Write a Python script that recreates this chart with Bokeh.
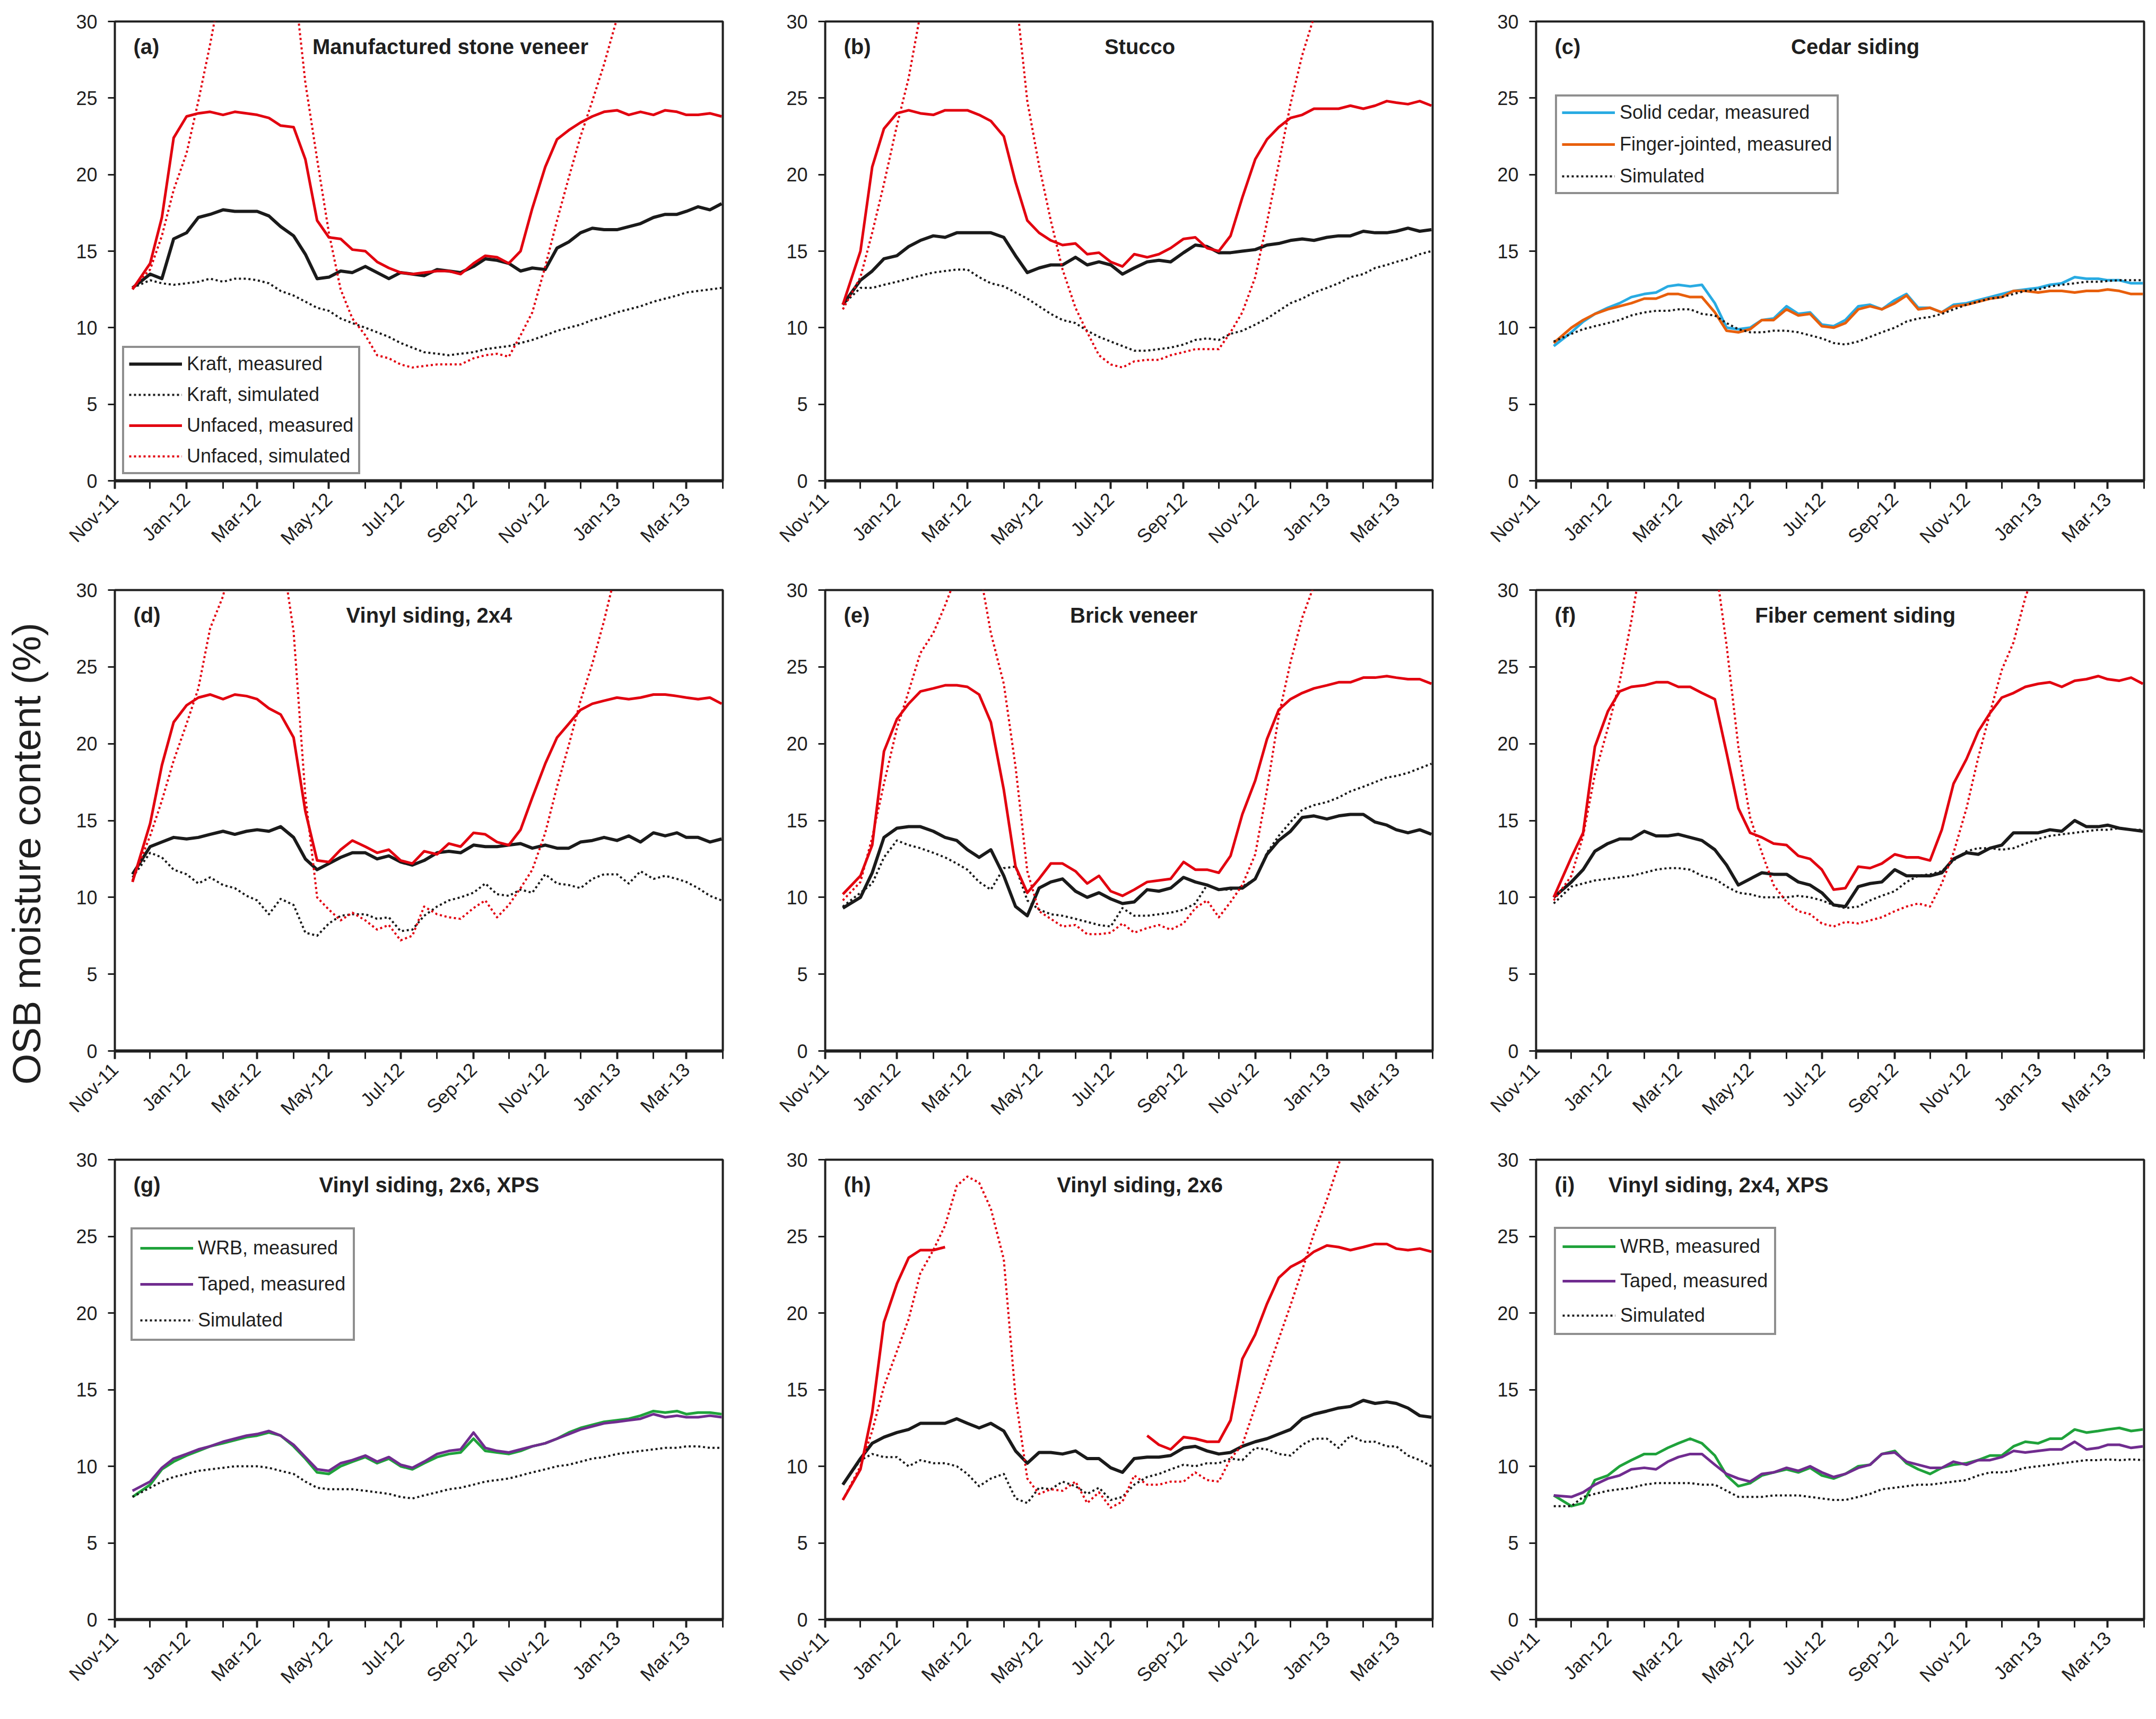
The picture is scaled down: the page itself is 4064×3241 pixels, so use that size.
import numpy as np
import pandas as pd
from bokeh.plotting import figure
from bokeh.layouts import row, column
from bokeh.models import FixedTicker, DatetimeTickFormatter, Range1d, Legend, LegendItem
from bokeh.core.properties import value
from bokeh.embed import file_html
from bokeh.resources import INLINE

# ------------------------------------------------------------------ data
DATES = ["2011-11-16", "2011-12-01", "2011-12-11", "2011-12-21",
         "2012-01-01", "2012-01-11", "2012-01-21", "2012-02-01", "2012-02-11", "2012-02-21",
         "2012-03-01", "2012-03-11", "2012-03-21", "2012-04-01", "2012-04-11", "2012-04-21",
         "2012-05-01", "2012-05-11", "2012-05-21", "2012-06-01", "2012-06-11", "2012-06-21",
         "2012-07-01", "2012-07-11", "2012-07-21", "2012-08-01", "2012-08-11", "2012-08-21",
         "2012-09-01", "2012-09-11", "2012-09-21", "2012-10-01", "2012-10-11", "2012-10-21",
         "2012-11-01", "2012-11-11", "2012-11-21", "2012-12-01", "2012-12-11", "2012-12-21",
         "2013-01-01", "2013-01-11", "2013-01-21", "2013-02-01", "2013-02-11", "2013-02-21",
         "2013-03-01", "2013-03-11", "2013-03-21", "2013-03-31"]

X_START = "2011-11-01"
X_END = "2013-04-01"
X_LABEL_MONTHS = ["2011-11-01", "2012-01-01", "2012-03-01", "2012-05-01", "2012-07-01",
                  "2012-09-01", "2012-11-01", "2013-01-01", "2013-03-01"]
X_MINOR_MONTHS = ["2011-11-01", "2011-12-01", "2012-01-01", "2012-02-01", "2012-03-01",
                  "2012-04-01", "2012-05-01", "2012-06-01", "2012-07-01", "2012-08-01",
                  "2012-09-01", "2012-10-01", "2012-11-01", "2012-12-01", "2013-01-01",
                  "2013-02-01", "2013-03-01", "2013-04-01"]
Y_TICKS = [0, 5, 10, 15, 20, 25, 30]
Y_LABEL = "OSB moisture content (%)"

# (a) Manufactured stone veneer
A_KRAFT_MEAS = [12.6, 13.5, 13.2, 15.8, 16.2, 17.2, 17.4, 17.7, 17.6, 17.6,
                17.6, 17.3, 16.6, 16.0, 14.8, 13.2, 13.3, 13.7, 13.6, 14.0,
                13.6, 13.2, 13.6, 13.5, 13.4, 13.8, 13.7, 13.6, 14.0, 14.5,
                14.4, 14.2, 13.7, 13.9, 13.8, 15.2, 15.6, 16.2, 16.5, 16.4,
                16.4, 16.6, 16.8, 17.2, 17.4, 17.4, 17.6, 17.9, 17.7, 18.1]
A_KRAFT_SIM = [12.6, 13.1, 12.9, 12.8, 12.9, 13.0, 13.2, 13.0, 13.2, 13.2,
               13.1, 12.9, 12.4, 12.1, 11.7, 11.3, 11.1, 10.6, 10.3, 10.0,
               9.7, 9.4, 9.0, 8.7, 8.4, 8.3, 8.2, 8.3, 8.4, 8.6,
               8.7, 8.8, 9.0, 9.2, 9.5, 9.8, 10.0, 10.2, 10.5, 10.7,
               11.0, 11.2, 11.4, 11.7, 11.9, 12.1, 12.3, 12.4, 12.5, 12.6]
A_UNF_MEAS = [12.5, 14.2, 17.2, 22.4, 23.8, 24.0, 24.1, 23.9, 24.1, 24.0,
              23.9, 23.7, 23.2, 23.1, 21.0, 17.0, 15.9, 15.8, 15.1, 15.0,
              14.3, 13.9, 13.6, 13.5, 13.6, 13.7, 13.7, 13.5, 14.2, 14.7,
              14.6, 14.2, 15.0, 17.8, 20.5, 22.3, 22.9, 23.4, 23.8, 24.1,
              24.2, 23.9, 24.1, 23.9, 24.2, 24.1, 23.9, 23.9, 24.0, 23.8]
A_UNF_SIM = [12.6, 13.8, 16.0, 19.0, 21.4, 24.8, 28.5, 33.0, 37.0, 40.0,
             41.0, 40.0, 36.5, 33.0, 26.0, 21.0, 16.2, 12.5, 10.6, 9.5,
             8.2, 8.0, 7.6, 7.4, 7.5, 7.6, 7.6, 7.6, 8.0, 8.2,
             8.3, 8.1, 9.5, 11.0, 14.0, 17.0, 19.8, 22.5, 24.8, 27.2,
             30.2, 33.0, 36.0, 38.0, 40.0, 41.0, 42.0, 43.0, 44.0, 45.0]

# (b) Stucco
B_KRAFT_MEAS = [11.5, 13.1, 13.7, 14.5, 14.7, 15.3, 15.7, 16.0, 15.9, 16.2,
                16.2, 16.2, 16.2, 15.9, 14.7, 13.6, 13.9, 14.1, 14.1, 14.6,
                14.1, 14.3, 14.1, 13.5, 13.9, 14.3, 14.4, 14.3, 14.9, 15.4,
                15.3, 14.9, 14.9, 15.0, 15.1, 15.4, 15.5, 15.7, 15.8, 15.7,
                15.9, 16.0, 16.0, 16.3, 16.2, 16.2, 16.3, 16.5, 16.3, 16.4]
B_KRAFT_SIM = [11.5, 12.6, 12.6, 12.8, 13.0, 13.2, 13.4, 13.6, 13.7, 13.8,
               13.8, 13.3, 12.9, 12.7, 12.3, 11.9, 11.4, 10.9, 10.5, 10.3,
               9.8, 9.4, 9.1, 8.8, 8.5, 8.5, 8.6, 8.7, 8.9, 9.2,
               9.3, 9.2, 9.6, 9.8, 10.2, 10.6, 11.1, 11.6, 11.9, 12.3,
               12.6, 12.9, 13.3, 13.5, 13.9, 14.1, 14.3, 14.5, 14.8, 15.0]
B_UNF_MEAS = [11.5, 15.0, 20.5, 23.0, 24.0, 24.2, 24.0, 23.9, 24.2, 24.2,
              24.2, 23.9, 23.5, 22.5, 19.5, 17.0, 16.2, 15.7, 15.4, 15.5,
              14.8, 14.9, 14.3, 14.0, 14.8, 14.6, 14.8, 15.2, 15.8, 15.9,
              15.2, 15.0, 16.0, 18.5, 21.0, 22.3, 23.1, 23.7, 23.9, 24.3,
              24.3, 24.3, 24.5, 24.3, 24.5, 24.8, 24.7, 24.6, 24.8, 24.5]
B_UNF_SIM = [11.2, 13.3, 16.2, 19.4, 23.2, 26.3, 30.5, 35.0, 38.0, 40.0,
             41.0, 41.0, 39.0, 36.0, 32.0, 24.8, 20.6, 17.0, 13.8, 11.3,
             9.7, 8.2, 7.6, 7.4, 7.8, 7.9, 7.9, 8.2, 8.4, 8.6,
             8.6, 8.6, 9.7, 11.0, 13.3, 16.9, 20.7, 24.6, 27.8, 30.3,
             33.0, 36.0, 38.0, 40.0, 41.0, 42.0, 43.0, 44.0, 45.0, 46.0]

# (c) Cedar siding
C_SOLID_MEAS = [8.8, 9.7, 10.4, 10.9, 11.3, 11.6, 12.0, 12.2, 12.3, 12.7,
                12.8, 12.7, 12.8, 11.6, 10.0, 9.9, 10.0, 10.5, 10.6, 11.4,
                10.9, 11.0, 10.2, 10.1, 10.5, 11.4, 11.5, 11.2, 11.8, 12.2,
                11.3, 11.3, 11.0, 11.5, 11.6, 11.8, 12.0, 12.2, 12.4, 12.5,
                12.6, 12.8, 12.9, 13.3, 13.2, 13.2, 13.1, 13.1, 12.9, 12.9]
C_FINGER_MEAS = [9.0, 10.0, 10.5, 10.9, 11.2, 11.4, 11.6, 11.9, 11.9, 12.2,
                 12.2, 12.0, 12.0, 11.0, 9.8, 9.7, 9.9, 10.5, 10.5, 11.2,
                 10.8, 10.9, 10.1, 10.0, 10.3, 11.2, 11.4, 11.2, 11.6, 12.1,
                 11.2, 11.3, 11.0, 11.4, 11.5, 11.7, 11.9, 12.0, 12.4, 12.4,
                 12.3, 12.4, 12.4, 12.3, 12.4, 12.4, 12.5, 12.4, 12.2, 12.2]
C_SIM = [9.1, 9.6, 9.9, 10.1, 10.3, 10.5, 10.8, 11.0, 11.1, 11.1,
         11.2, 11.2, 10.9, 10.8, 10.3, 9.9, 9.7, 9.7, 9.8, 9.8,
         9.7, 9.5, 9.3, 9.0, 8.9, 9.1, 9.4, 9.7, 10.0, 10.4,
         10.6, 10.7, 10.9, 11.2, 11.5, 11.7, 11.9, 12.0, 12.2, 12.4,
         12.5, 12.7, 12.8, 12.9, 13.0, 13.0, 13.05, 13.1, 13.1, 13.1]

# (d) Vinyl siding, 2x4
D_KRAFT_MEAS = [11.5, 13.3, 13.6, 13.9, 13.8, 13.9, 14.1, 14.3, 14.1, 14.3,
                14.4, 14.3, 14.6, 13.9, 12.5, 11.8, 12.2, 12.6, 12.9, 12.9,
                12.5, 12.7, 12.3, 12.1, 12.4, 12.9, 13.0, 12.9, 13.4, 13.3,
                13.3, 13.4, 13.5, 13.2, 13.4, 13.2, 13.2, 13.6, 13.7, 13.9,
                13.7, 14.0, 13.6, 14.2, 14.0, 14.2, 13.9, 13.9, 13.6, 13.8]
D_KRAFT_SIM = [11.3, 12.9, 12.6, 11.8, 11.5, 10.9, 11.3, 10.8, 10.6, 10.1,
               9.8, 8.9, 9.9, 9.5, 7.7, 7.5, 8.3, 8.8, 8.9, 8.9,
               8.6, 8.7, 7.8, 7.9, 8.8, 9.4, 9.8, 10.0, 10.3, 10.9,
               10.2, 10.1, 10.5, 10.3, 11.5, 10.9, 10.8, 10.6, 11.2, 11.5,
               11.5, 10.9, 11.7, 11.2, 11.4, 11.2, 11.0, 10.6, 10.1, 9.8]
D_UNF_MEAS = [11.0, 14.8, 18.6, 21.4, 22.5, 23.0, 23.2, 22.9, 23.2, 23.1,
              22.9, 22.3, 21.9, 20.4, 15.6, 12.4, 12.3, 13.1, 13.7, 13.3,
              12.9, 13.1, 12.4, 12.2, 13.0, 12.8, 13.5, 13.3, 14.2, 14.1,
              13.6, 13.4, 14.4, 16.5, 18.7, 20.4, 21.3, 22.2, 22.6, 22.8,
              23.0, 22.9, 23.0, 23.2, 23.2, 23.1, 23.0, 22.9, 23.0, 22.6]
D_UNF_SIM = [11.1, 14.0, 16.3, 18.9, 21.3, 23.6, 27.5, 29.6, 33.0, 36.0,
             37.0, 36.0, 33.0, 27.3, 16.6, 10.0, 9.2, 8.5, 9.0, 8.5,
             7.9, 8.2, 7.2, 7.5, 9.4, 8.9, 8.7, 8.6, 9.3, 9.8,
             8.7, 9.5, 10.6, 11.8, 14.2, 17.2, 19.9, 22.8, 25.2, 28.0,
             31.5, 34.0, 37.0, 39.0, 41.0, 42.0, 43.0, 44.0, 45.0, 46.0]

# (e) Brick veneer
E_KRAFT_MEAS = [9.3, 10.0, 11.6, 13.9, 14.5, 14.6, 14.6, 14.3, 13.9, 13.7,
                13.1, 12.6, 13.1, 11.4, 9.4, 8.8, 10.6, 11.0, 11.2, 10.4,
                10.0, 10.3, 9.9, 9.6, 9.7, 10.5, 10.4, 10.6, 11.3, 11.0,
                10.8, 10.5, 10.6, 10.6, 11.2, 12.8, 13.7, 14.3, 15.2, 15.3,
                15.1, 15.3, 15.4, 15.4, 14.9, 14.7, 14.4, 14.2, 14.4, 14.1]
E_KRAFT_SIM = [9.4, 10.3, 10.9, 12.6, 13.7, 13.4, 13.2, 12.9, 12.6, 12.2,
               11.8, 11.0, 10.5, 11.9, 12.0, 9.8, 9.2, 8.9, 8.8, 8.6,
               8.4, 8.2, 8.1, 9.3, 8.8, 8.8, 8.9, 9.0, 9.2, 9.6,
               10.8, 10.5, 10.5, 10.7, 11.2, 12.9, 14.0, 14.9, 15.7, 16.0,
               16.2, 16.5, 16.9, 17.2, 17.5, 17.8, 17.9, 18.1, 18.4, 18.7]
E_UNF_MEAS = [10.2, 11.4, 13.4, 19.5, 21.6, 22.6, 23.4, 23.6, 23.8, 23.8,
              23.7, 23.2, 21.4, 17.0, 12.0, 10.3, 11.2, 12.2, 12.2, 11.7,
              10.9, 11.4, 10.4, 10.1, 10.5, 11.0, 11.1, 11.2, 12.3, 11.8,
              11.8, 11.6, 12.7, 15.4, 17.6, 20.3, 22.2, 22.9, 23.3, 23.6,
              23.8, 24.0, 24.0, 24.3, 24.3, 24.4, 24.3, 24.2, 24.2, 23.9]
E_UNF_SIM = [9.8, 11.0, 13.9, 17.4, 21.0, 23.4, 25.9, 27.2, 29.0, 31.0,
             32.5, 31.5, 27.2, 23.9, 18.5, 11.7, 9.1, 8.6, 8.1, 8.2,
             7.6, 7.6, 7.7, 8.3, 7.7, 8.0, 8.2, 7.9, 8.3, 9.3,
             9.8, 8.7, 9.7, 10.8, 12.8, 17.0, 21.8, 25.3, 28.2, 30.3,
             32.0, 34.0, 36.0, 38.0, 39.0, 40.0, 41.0, 42.0, 43.0, 44.0]

# (f) Fiber cement siding
F_KRAFT_MEAS = [10.0, 11.0, 11.8, 13.0, 13.5, 13.8, 13.8, 14.3, 14.0, 14.0,
                14.1, 13.9, 13.7, 13.1, 12.1, 10.8, 11.2, 11.6, 11.5, 11.5,
                11.0, 10.8, 10.3, 9.5, 9.4, 10.7, 10.9, 11.0, 11.8, 11.4,
                11.4, 11.4, 11.6, 12.5, 12.9, 12.8, 13.2, 13.4, 14.2, 14.2,
                14.2, 14.4, 14.3, 15.0, 14.6, 14.6, 14.7, 14.5, 14.4, 14.3]
F_KRAFT_SIM = [9.6, 10.7, 10.9, 11.1, 11.2, 11.3, 11.4, 11.6, 11.8, 11.9,
               11.9, 11.8, 11.4, 11.2, 10.7, 10.3, 10.2, 10.0, 10.0, 10.0,
               10.1, 10.0, 9.8, 9.5, 9.3, 9.4, 9.8, 10.1, 10.4, 11.0,
               11.4, 11.5, 11.7, 12.4, 13.0, 13.2, 13.2, 13.1, 13.2, 13.5,
               13.8, 14.0, 14.1, 14.2, 14.3, 14.4, 14.4, 14.5, 14.4, 14.4]
F_UNF_MEAS = [10.0, 12.6, 14.2, 19.8, 22.1, 23.4, 23.7, 23.8, 24.0, 24.0,
              23.7, 23.7, 23.3, 22.9, 19.4, 15.8, 14.2, 13.9, 13.5, 13.4,
              12.7, 12.5, 11.8, 10.5, 10.6, 12.0, 11.9, 12.2, 12.8, 12.6,
              12.6, 12.4, 14.4, 17.4, 19.0, 20.8, 22.0, 23.0, 23.3, 23.7,
              23.9, 24.0, 23.7, 24.1, 24.2, 24.4, 24.2, 24.1, 24.3, 23.9]
F_UNF_SIM = [9.8, 11.4, 14.0, 18.0, 21.0, 24.0, 28.0, 33.0, 36.0, 39.0,
             40.0, 39.0, 36.0, 32.0, 26.4, 19.8, 15.2, 12.9, 10.8, 9.7,
             9.1, 8.9, 8.3, 8.1, 8.4, 8.3, 8.5, 8.7, 9.1, 9.4,
             9.6, 9.4, 10.9, 12.9, 15.8, 19.1, 22.0, 24.8, 26.6, 29.5,
             32.0, 34.0, 36.0, 38.0, 39.0, 40.0, 41.0, 42.0, 43.0, 44.0]

# (g) Vinyl siding, 2x6, XPS
G_WRB_MEAS = [8.0, 8.8, 9.8, 10.3, 10.7, 11.0, 11.3, 11.5, 11.7, 11.9,
              12.0, 12.2, 12.0, 11.3, 10.5, 9.6, 9.5, 10.0, 10.3, 10.6,
              10.2, 10.5, 10.0, 9.8, 10.2, 10.6, 10.8, 10.9, 11.8, 11.0,
              10.9, 10.8, 11.0, 11.3, 11.5, 11.8, 12.2, 12.5, 12.7, 12.9,
              13.0, 13.1, 13.3, 13.6, 13.5, 13.6, 13.4, 13.5, 13.5, 13.4]
G_TAPED_MEAS = [8.4, 9.0, 9.9, 10.5, 10.8, 11.1, 11.3, 11.6, 11.8, 12.0,
                12.1, 12.3, 12.0, 11.4, 10.6, 9.8, 9.7, 10.2, 10.4, 10.7,
                10.3, 10.6, 10.1, 9.9, 10.3, 10.8, 11.0, 11.1, 12.2, 11.2,
                11.0, 10.9, 11.1, 11.3, 11.5, 11.8, 12.1, 12.4, 12.6, 12.8,
                12.9, 13.0, 13.1, 13.4, 13.2, 13.3, 13.2, 13.2, 13.3, 13.2]
G_SIM = [8.0, 8.6, 9.0, 9.3, 9.5, 9.7, 9.8, 9.9, 10.0, 10.0,
         10.0, 9.9, 9.7, 9.5, 9.0, 8.6, 8.5, 8.5, 8.5, 8.4,
         8.3, 8.2, 8.0, 7.9, 8.1, 8.3, 8.5, 8.6, 8.8, 9.0,
         9.1, 9.2, 9.4, 9.6, 9.8, 10.0, 10.1, 10.3, 10.5, 10.6,
         10.8, 10.9, 11.0, 11.1, 11.2, 11.2, 11.3, 11.3, 11.2, 11.2]

# (h) Vinyl siding, 2x6  (None = no measurement)
H_KRAFT_MEAS = [8.8, 10.5, 11.5, 11.9, 12.2, 12.4, 12.8, 12.8, 12.8, 13.1,
                12.8, 12.5, 12.8, 12.3, 11.0, 10.2, 10.9, 10.9, 10.8, 11.0,
                10.5, 10.5, 9.9, 9.6, 10.5, 10.6, 10.6, 10.7, 11.2, 11.3,
                11.0, 10.8, 10.9, 11.3, 11.6, 11.8, 12.1, 12.4, 13.1, 13.4,
                13.6, 13.8, 13.9, 14.3, 14.1, 14.2, 14.1, 13.8, 13.3, 13.2]
H_KRAFT_SIM = [8.8, 10.4, 10.8, 10.6, 10.6, 10.0, 10.4, 10.2, 10.2, 10.0,
               9.5, 8.7, 9.2, 9.5, 7.9, 7.6, 8.6, 8.5, 9.0, 8.7,
               8.2, 8.6, 7.8, 8.0, 8.8, 9.3, 9.5, 9.8, 10.1, 10.0,
               10.2, 10.2, 10.5, 10.4, 11.2, 11.1, 10.8, 10.7, 11.4, 11.8,
               11.8, 11.2, 12.0, 11.6, 11.6, 11.3, 11.3, 10.7, 10.4, 10.0]
H_UNF_MEAS = [7.8, 9.8, 13.5, 19.4, 21.9, 23.6, 24.1, 24.1, 24.3, None,
              None, None, None, None, None, None, None, None, None, None,
              None, None, None, None, None, 12.0, 11.4, 11.1, 11.9, 11.8,
              11.6, 11.6, 13.0, 17.0, 18.6, 20.6, 22.3, 23.0, 23.4, 24.0,
              24.4, 24.3, 24.1, 24.3, 24.5, 24.5, 24.2, 24.1, 24.2, 24.0]
H_UNF_SIM = [7.8, 10.0, 12.3, 15.2, 17.5, 19.6, 22.6, 24.1, 25.7, 28.3,
             28.9, 28.5, 26.8, 23.5, 14.5, 9.2, 8.2, 8.5, 8.4, 9.0,
             7.6, 8.3, 7.3, 7.7, 9.4, 8.8, 8.8, 9.0, 9.0, 9.6,
             9.1, 9.0, 10.5, 11.4, 13.9, 16.1, 18.3, 20.5, 22.8, 25.2,
             27.4, 29.7, 32.0, 34.0, 36.0, 38.0, 40.0, 41.0, 42.0, 43.0]

# (i) Vinyl siding, 2x4, XPS
I_WRB_MEAS = [8.1, 7.4, 7.6, 9.1, 9.4, 10.0, 10.4, 10.8, 10.8, 11.2,
              11.5, 11.8, 11.5, 10.7, 9.4, 8.7, 8.9, 9.4, 9.6, 9.8,
              9.6, 9.9, 9.4, 9.2, 9.5, 10.0, 10.1, 10.8, 11.0, 10.2,
              9.8, 9.5, 9.9, 10.1, 10.2, 10.4, 10.7, 10.7, 11.3, 11.6,
              11.5, 11.8, 11.8, 12.4, 12.2, 12.3, 12.4, 12.5, 12.3, 12.4]
I_TAPED_MEAS = [8.1, 8.0, 8.3, 8.8, 9.2, 9.4, 9.8, 9.9, 9.8, 10.3,
                10.6, 10.8, 10.8, 10.1, 9.5, 9.2, 9.0, 9.5, 9.6, 9.9,
                9.7, 10.0, 9.6, 9.3, 9.5, 9.9, 10.1, 10.8, 10.9, 10.3,
                10.1, 9.9, 9.9, 10.3, 10.1, 10.4, 10.4, 10.6, 11.0, 10.9,
                11.0, 11.1, 11.1, 11.6, 11.1, 11.2, 11.4, 11.4, 11.2, 11.3]
I_SIM = [7.4, 7.4, 8.0, 8.2, 8.4, 8.5, 8.6, 8.8, 8.9, 8.9,
         8.9, 8.9, 8.8, 8.8, 8.4, 8.0, 8.0, 8.0, 8.1, 8.1,
         8.1, 8.0, 7.9, 7.8, 7.8, 8.0, 8.2, 8.5, 8.6, 8.7,
         8.8, 8.8, 8.9, 9.0, 9.1, 9.4, 9.6, 9.6, 9.7, 9.9,
         10.0, 10.1, 10.2, 10.3, 10.4, 10.4, 10.45, 10.4, 10.45, 10.4]

# ------------------------------------------------------------------ styles
FONT = "Liberation Sans"
INK = "#1f1f1f"
STYLES = {
    "kraft_meas": dict(line_color="#1a1a1a", line_width=6),
    "kraft_sim": dict(line_color="#1a1a1a", line_width=4, line_dash="4 5"),
    "unf_meas": dict(line_color="#e2000f", line_width=5),
    "unf_sim": dict(line_color="#e2000f", line_width=4, line_dash="4 5"),
    "solid": dict(line_color="#29abe2", line_width=5),
    "finger": dict(line_color="#e85f0c", line_width=5),
    "wrb": dict(line_color="#1fa23b", line_width=5),
    "taped": dict(line_color="#702c8f", line_width=5),
    "sim": dict(line_color="#1a1a1a", line_width=4, line_dash="4 5"),
}

PANELS = [
    dict(tag="(a)", title="Manufactured stone veneer", title_frac=0.552,
         series=[("Kraft, simulated", A_KRAFT_SIM, "kraft_sim"),
                 ("Kraft, measured", A_KRAFT_MEAS, "kraft_meas"),
                 ("Unfaced, measured", A_UNF_MEAS, "unf_meas"),
                 ("Unfaced, simulated", A_UNF_SIM, "unf_sim")],
         legend=["Kraft, measured", "Kraft, simulated", "Unfaced, measured", "Unfaced, simulated"],
         legend_loc=(14, 12), legend_spacing=16, legend_pad=9),
    dict(tag="(b)", title="Stucco", title_frac=0.518,
         series=[("Kraft, simulated", B_KRAFT_SIM, "kraft_sim"),
                 ("Kraft, measured", B_KRAFT_MEAS, "kraft_meas"),
                 ("Unfaced, measured", B_UNF_MEAS, "unf_meas"),
                 ("Unfaced, simulated", B_UNF_SIM, "unf_sim")]),
    dict(tag="(c)", title="Cedar siding", title_frac=0.525,
         series=[("Solid cedar, measured", C_SOLID_MEAS, "solid"),
                 ("Finger-jointed, measured", C_FINGER_MEAS, "finger"),
                 ("Simulated", C_SIM, "sim")],
         legend=["Solid cedar, measured", "Finger-jointed, measured", "Simulated"],
         legend_loc=(36, 540), legend_spacing=18, legend_pad=9),
    dict(tag="(d)", title="Vinyl siding, 2x4", title_frac=0.517,
         series=[("Kraft, simulated", D_KRAFT_SIM, "kraft_sim"),
                 ("Kraft, measured", D_KRAFT_MEAS, "kraft_meas"),
                 ("Unfaced, measured", D_UNF_MEAS, "unf_meas"),
                 ("Unfaced, simulated", D_UNF_SIM, "unf_sim")]),
    dict(tag="(e)", title="Brick veneer", title_frac=0.508,
         series=[("Kraft, simulated", E_KRAFT_SIM, "kraft_sim"),
                 ("Kraft, measured", E_KRAFT_MEAS, "kraft_meas"),
                 ("Unfaced, measured", E_UNF_MEAS, "unf_meas"),
                 ("Unfaced, simulated", E_UNF_SIM, "unf_sim")]),
    dict(tag="(f)", title="Fiber cement siding", title_frac=0.525,
         series=[("Kraft, simulated", F_KRAFT_SIM, "kraft_sim"),
                 ("Kraft, measured", F_KRAFT_MEAS, "kraft_meas"),
                 ("Unfaced, measured", F_UNF_MEAS, "unf_meas"),
                 ("Unfaced, simulated", F_UNF_SIM, "unf_sim")]),
    dict(tag="(g)", title="Vinyl siding, 2x6, XPS", title_frac=0.517,
         series=[("WRB, measured", G_WRB_MEAS, "wrb"),
                 ("Taped, measured", G_TAPED_MEAS, "taped"),
                 ("Simulated", G_SIM, "sim")],
         legend=["WRB, measured", "Taped, measured", "Simulated"],
         legend_loc=(30, 525), legend_spacing=26, legend_pad=14),
    dict(tag="(h)", title="Vinyl siding, 2x6", title_frac=0.518,
         series=[("Kraft, simulated", H_KRAFT_SIM, "kraft_sim"),
                 ("Kraft, measured", H_KRAFT_MEAS, "kraft_meas"),
                 ("Unfaced, measured", H_UNF_MEAS, "unf_meas"),
                 ("Unfaced, simulated", H_UNF_SIM, "unf_sim")]),
    dict(tag="(i)", title="Vinyl siding, 2x4, XPS", title_frac=0.30,
         series=[("WRB, measured", I_WRB_MEAS, "wrb"),
                 ("Taped, measured", I_TAPED_MEAS, "taped"),
                 ("Simulated", I_SIM, "sim")],
         legend=["WRB, measured", "Taped, measured", "Simulated"],
         legend_loc=(34, 536), legend_spacing=23, legend_pad=12),
]

# ------------------------------------------------------------------ geometry (px)
LABEL_W = 110
COL_W = [1292, 1338, 1305]
COL_BL = [106, 153, 155]
COL_BR = [40, 40, 4]
ROW_H = [1086, 1075, 1057]
ROW_BT = [40, 26, 25]
ROW_BB = [180, 180, 165]
TOTAL_H = sum(ROW_H)


def ms(d):
    return pd.Timestamp(d).timestamp() * 1000.0


XS = np.array([ms(d) for d in DATES])
X0, X1 = ms(X_START), ms(X_END)


def build(panel, ci, ri):
    p = figure(width=COL_W[ci], height=ROW_H[ri], title=None, x_axis_type="datetime",
               x_range=Range1d(X0, X1), y_range=Range1d(0, 30),
               min_border_left=COL_BL[ci], min_border_right=COL_BR[ci],
               min_border_top=ROW_BT[ri], min_border_bottom=ROW_BB[ri],
               output_backend="svg", toolbar_location=None)
    p.background_fill_color = "white"
    p.border_fill_color = "white"
    p.grid.visible = False
    p.outline_line_color = INK
    p.outline_line_width = 4

    xa = p.xaxis[0]
    xa.ticker = FixedTicker(ticks=[ms(d) for d in X_LABEL_MONTHS],
                            minor_ticks=[ms(d) for d in X_MINOR_MONTHS])
    fmt = "%b-%y"
    xa.formatter = DatetimeTickFormatter(days=fmt, months=fmt, years=fmt, hours=fmt,
                                         hourmin=fmt, minutes=fmt, minsec=fmt, seconds=fmt,
                                         milliseconds=fmt, microseconds=fmt)
    xa.major_label_orientation = np.pi / 4
    xa.major_label_text_font = FONT
    xa.major_label_text_font_size = "36px"
    xa.major_label_text_color = INK
    xa.major_label_standoff = 14
    xa.axis_line_width = 6
    xa.axis_line_color = INK
    xa.major_tick_in = 0
    xa.major_tick_out = 15
    xa.minor_tick_in = 0
    xa.minor_tick_out = 15
    xa.major_tick_line_width = 4
    xa.minor_tick_line_width = 3
    xa.major_tick_line_color = INK
    xa.minor_tick_line_color = INK

    ya = p.yaxis[0]
    ya.ticker = FixedTicker(ticks=Y_TICKS)
    ya.major_label_text_font = FONT
    ya.major_label_text_font_size = "36px"
    ya.major_label_text_color = INK
    ya.major_label_standoff = 20
    ya.axis_line_width = 3
    ya.axis_line_color = INK
    ya.major_tick_in = 0
    ya.major_tick_out = 13
    ya.major_tick_line_width = 3
    ya.major_tick_line_color = INK
    ya.minor_tick_line_color = None

    renderers = {}
    for label, vals, style in panel["series"]:
        y = np.array([np.nan if v is None else v for v in vals], dtype=float)
        n = min(len(XS), len(y))
        r = p.line(XS[:n], y[:n], line_join="round", line_cap="butt", **STYLES[style])
        renderers[label] = r

    y_text = 28.35
    p.text(x=[X0 + 0.0305 * (X1 - X0)], y=[y_text], text=[panel["tag"]],
           text_font=value(FONT), text_font_style="bold", text_font_size="40px",
           text_color=INK, text_align="left", text_baseline="middle")
    p.text(x=[X0 + panel["title_frac"] * (X1 - X0)], y=[y_text], text=[panel["title"]],
           text_font=value(FONT), text_font_style="bold", text_font_size="40px",
           text_color=INK, text_align="center", text_baseline="middle")

    if panel.get("legend"):
        items = [LegendItem(label=lab, renderers=[renderers[lab]]) for lab in panel["legend"]]
        lg = Legend(items=items, location=panel["legend_loc"])
        lg.label_text_font = FONT
        lg.label_text_font_size = "36px"
        lg.label_text_color = INK
        lg.glyph_width = 100
        lg.glyph_height = 40
        lg.label_height = 40
        lg.spacing = panel["legend_spacing"]
        lg.padding = panel["legend_pad"]
        lg.label_standoff = 9
        lg.margin = 0
        lg.border_line_color = INK
        lg.border_line_width = 4
        lg.background_fill_color = "white"
        lg.background_fill_alpha = 1.0
        p.add_layout(lg)
    return p


figs = []
for idx, panel in enumerate(PANELS):
    figs.append(build(panel, idx % 3, idx // 3))

lab = figure(width=LABEL_W, height=TOTAL_H, title=None, x_axis_location=None, y_axis_location=None,
             x_range=Range1d(0, LABEL_W), y_range=Range1d(0, TOTAL_H),
             min_border_left=0, min_border_right=0, min_border_top=0, min_border_bottom=0,
             output_backend="svg", toolbar_location=None)
lab.grid.visible = False
lab.outline_line_color = None
lab.text(x=[49], y=[TOTAL_H - 1609], text=[Y_LABEL], angle=np.pi / 2,
         text_font=value(FONT), text_font_size="75px", text_color=INK,
         text_align="center", text_baseline="middle")

grid = column(row(figs[0], figs[1], figs[2]),
              row(figs[3], figs[4], figs[5]),
              row(figs[6], figs[7], figs[8]))
layout = row(lab, grid)

open("out.html", "w").write(file_html(layout, INLINE))
